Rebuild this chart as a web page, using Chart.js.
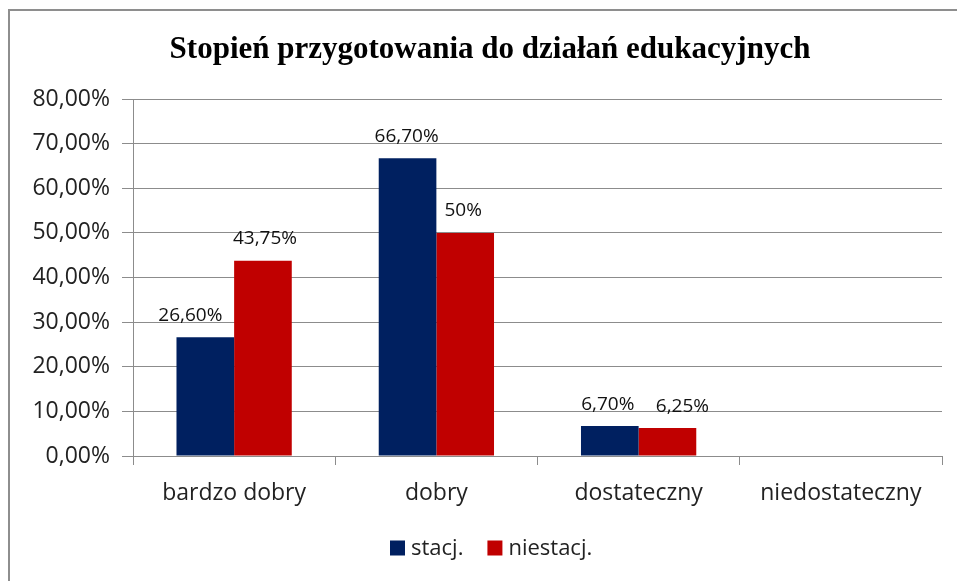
<!DOCTYPE html>
<html>
<head>
<meta charset="utf-8">
<script src="https://cdn.jsdelivr.net/npm/chart.js@4"></script>
<style>
	html, body { margin: 0; padding: 0; background: #fff; }
	canvas { display: block; }
</style>
</head>
<body>
<canvas id="chart" width="957" height="581"></canvas>
<script>
const categories = ['bardzo dobry', 'dobry', 'dostateczny', 'niedostateczny'];
const stacj = [26.6, 66.7, 6.7, null];
const niestacj = [43.75, 50, 6.25, null];
const stacjLabels = ['26,60%', '66,70%', '6,70%', ''];
const niestacjLabels = ['43,75%', '50%', '6,25%', ''];
const yTicks = ['0,00%', '10,00%', '20,00%', '30,00%', '40,00%', '50,00%', '60,00%', '70,00%', '80,00%'];
const title = 'Stopień przygotowania do działań edukacyjnych';

// label nudges, as placed by hand in the original
const labelShift = [
	[[-15, 0], [-1, 0], [-2, 0], [0, 0]],
	[[2, 0], [-2, 0], [15, 0], [0, 0]],
];

const FONT = '"Open Sans", "Noto Sans", sans-serif';
const GRID = '#8c8c8c';

const framePlugin = {
	id: 'frame',
	beforeDraw: function (chart) {
		const ctx = chart.ctx;
		ctx.save();
		ctx.fillStyle = '#fff';
		ctx.fillRect(0, 0, chart.width, chart.height);
		ctx.strokeStyle = '#8e8e8e';
		ctx.lineWidth = 2;
		ctx.beginPath();
		ctx.moveTo(9, chart.height);
		ctx.lineTo(9, 10);
		ctx.lineTo(chart.width, 10);
		ctx.stroke();

		ctx.fillStyle = '#000';
		ctx.font = 'bold 31px "Liberation Serif", "DejaVu Serif", serif';
		ctx.textAlign = 'center';
		ctx.textBaseline = 'middle';
		ctx.fillText(title, 490, 50);
		ctx.restore();
	},
	afterDraw: function (chart) {
		const ctx = chart.ctx;
		ctx.save();

		// value labels over the bars
		ctx.font = '19px ' + FONT;
		ctx.fillStyle = '#111';
		ctx.textAlign = 'center';
		ctx.textBaseline = 'middle';
		const texts = [stacjLabels, niestacjLabels];
		chart.data.datasets.forEach(function (ds, di) {
			const meta = chart.getDatasetMeta(di);
			meta.data.forEach(function (bar, i) {
				if (!texts[di][i]) return;
				const s = labelShift[di][i];
				ctx.fillText(texts[di][i], bar.x + s[0], bar.y - 22 + s[1]);
			});
		});

		// legend
		ctx.font = '22px ' + FONT;
		ctx.textAlign = 'left';
		const box = 15, gap = 6, spacing = 24;
		const items = chart.data.datasets.map(function (ds) {
			return { label: ds.label, color: ds.backgroundColor, w: box + gap + ctx.measureText(ds.label).width };
		});
		const total = items.reduce(function (a, it) { return a + it.w; }, 0) + spacing * (items.length - 1);
		let x = 390;
		const y = 548;
		items.forEach(function (it) {
			ctx.fillStyle = it.color;
			ctx.fillRect(x, y - box / 2, box, box);
			ctx.fillStyle = '#222';
			ctx.fillText(it.label, x + box + gap, y + 1);
			x += it.w + spacing;
		});
		ctx.restore();
	}
};

new Chart(document.getElementById('chart'), {
	type: 'bar',
	data: {
		labels: categories,
		datasets: [
			{ label: 'stacj.', data: stacj, backgroundColor: '#002060' },
			{ label: 'niestacj.', data: niestacj, backgroundColor: '#C00000' },
		]
	},
	options: {
		responsive: false,
		animation: false,
		devicePixelRatio: 1,
		layout: { padding: { top: 99, right: 15, left: 0, bottom: 0 } },
		categoryPercentage: 0.57,
		barPercentage: 1,
		plugins: {
			legend: { display: false },
			title: { display: false },
			tooltip: { enabled: false },
		},
		scales: {
			x: {
				afterFit: function (scale) { scale.height = 125; },
				grid: {
					offset: true,
					drawOnChartArea: false,
					drawTicks: true,
					tickLength: 9,
					color: GRID,
				},
				border: { color: GRID, width: 1 },
				ticks: {
					padding: 15,
					color: '#222',
					font: { family: FONT, size: 23 },
				},
			},
			y: {
				min: 0,
				max: 80,
				afterFit: function (scale) { scale.width = 133; },
				grid: {
					color: GRID,
					tickLength: 11,
				},
				border: { color: GRID, width: 1 },
				ticks: {
					stepSize: 10,
					padding: 12,
					color: '#222',
					font: { family: FONT, size: 23 },
					callback: function (v, i) { return yTicks[i]; },
				},
			},
		},
	},
	plugins: [framePlugin],
});
</script>
</body>
</html>
